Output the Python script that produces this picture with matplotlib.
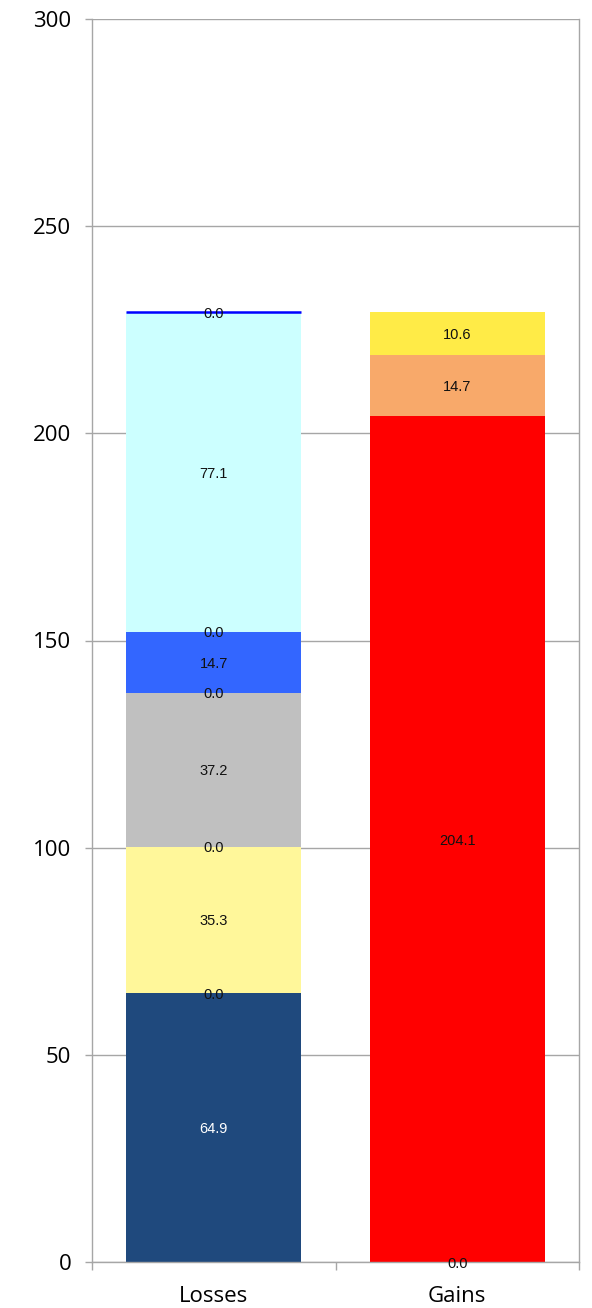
import matplotlib
matplotlib.use("Agg")
import matplotlib.pyplot as plt
from matplotlib.ticker import FixedLocator

# ------------------------------------------------------------------ data
categories = ["Losses", "Gains"]

losses_values = [64.9, 0.0, 35.3, 0.0, 37.2, 0.0, 14.7, 0.0, 77.1, 0.0]
losses_colors = ["#1F497D", "#FFFF99", "#FFF79A", "#C0C0C0", "#C0C0C0",
                 "#3366FF", "#3366FF", "#CCFFFF", "#CCFFFF", "#0000FF"]

gains_values = [0.0, 204.1, 14.7, 10.6]
gains_colors = ["#FF0000", "#FF0000", "#F8A96A", "#FFEB47"]

y_ticks = [0, 50, 100, 150, 200, 250, 300]

GRID = "#A6A6A6"


def stack(ax, x, values, colors, width=0.72):
    bottom = 0.0
    for v, c in zip(values, colors):
        if v == 0 and c == "#0000FF":
            # zero-height series shows only as a thin blue line
            ax.plot([x - width / 2, x + width / 2], [bottom, bottom],
                    color=c, lw=1.8, zorder=3, solid_capstyle="butt")
        elif v > 0:
            ax.bar(x, v, width=width, bottom=bottom, color=c, lw=0, zorder=2)
        txt_col = "white" if c == "#1F497D" else "#111111"
        ax.text(x, bottom + v / 2, f"{v:.1f}", ha="center", va="center_baseline",
                fontsize=10.5, family="Liberation Sans", color=txt_col, zorder=4)
        bottom += v


fig = plt.figure(figsize=(5.92, 13.08), dpi=100)
ax = fig.add_axes([92 / 592, 46 / 1308, 487 / 592, 1243 / 1308])

stack(ax, 0, losses_values, losses_colors)
stack(ax, 1, gains_values, gains_colors)

ax.set_xlim(-0.5, 1.5)
ax.set_ylim(0, 300)
ax.set_yticks(y_ticks)
ax.yaxis.grid(True, color=GRID, lw=1.0, zorder=0)
ax.set_axisbelow(True)

ax.set_xticks([0, 1])
ax.set_xticklabels(categories)
ax.xaxis.set_minor_locator(FixedLocator([-0.5, 0.5, 1.5]))
ax.tick_params(axis="x", which="major", length=0, pad=17)
ax.tick_params(axis="x", which="minor", length=6, color=GRID, width=1)
ax.tick_params(axis="y", length=5, color=GRID, width=1, pad=10)
for lbl in ax.get_xticklabels() + ax.get_yticklabels():
    lbl.set_family("Open Sans")
    lbl.set_fontsize(16)

for s in ("left", "right", "bottom"):
    ax.spines[s].set_color(GRID)
    ax.spines[s].set_linewidth(1.0)
ax.spines["top"].set_visible(False)

fig.savefig("out.png", dpi=100)
